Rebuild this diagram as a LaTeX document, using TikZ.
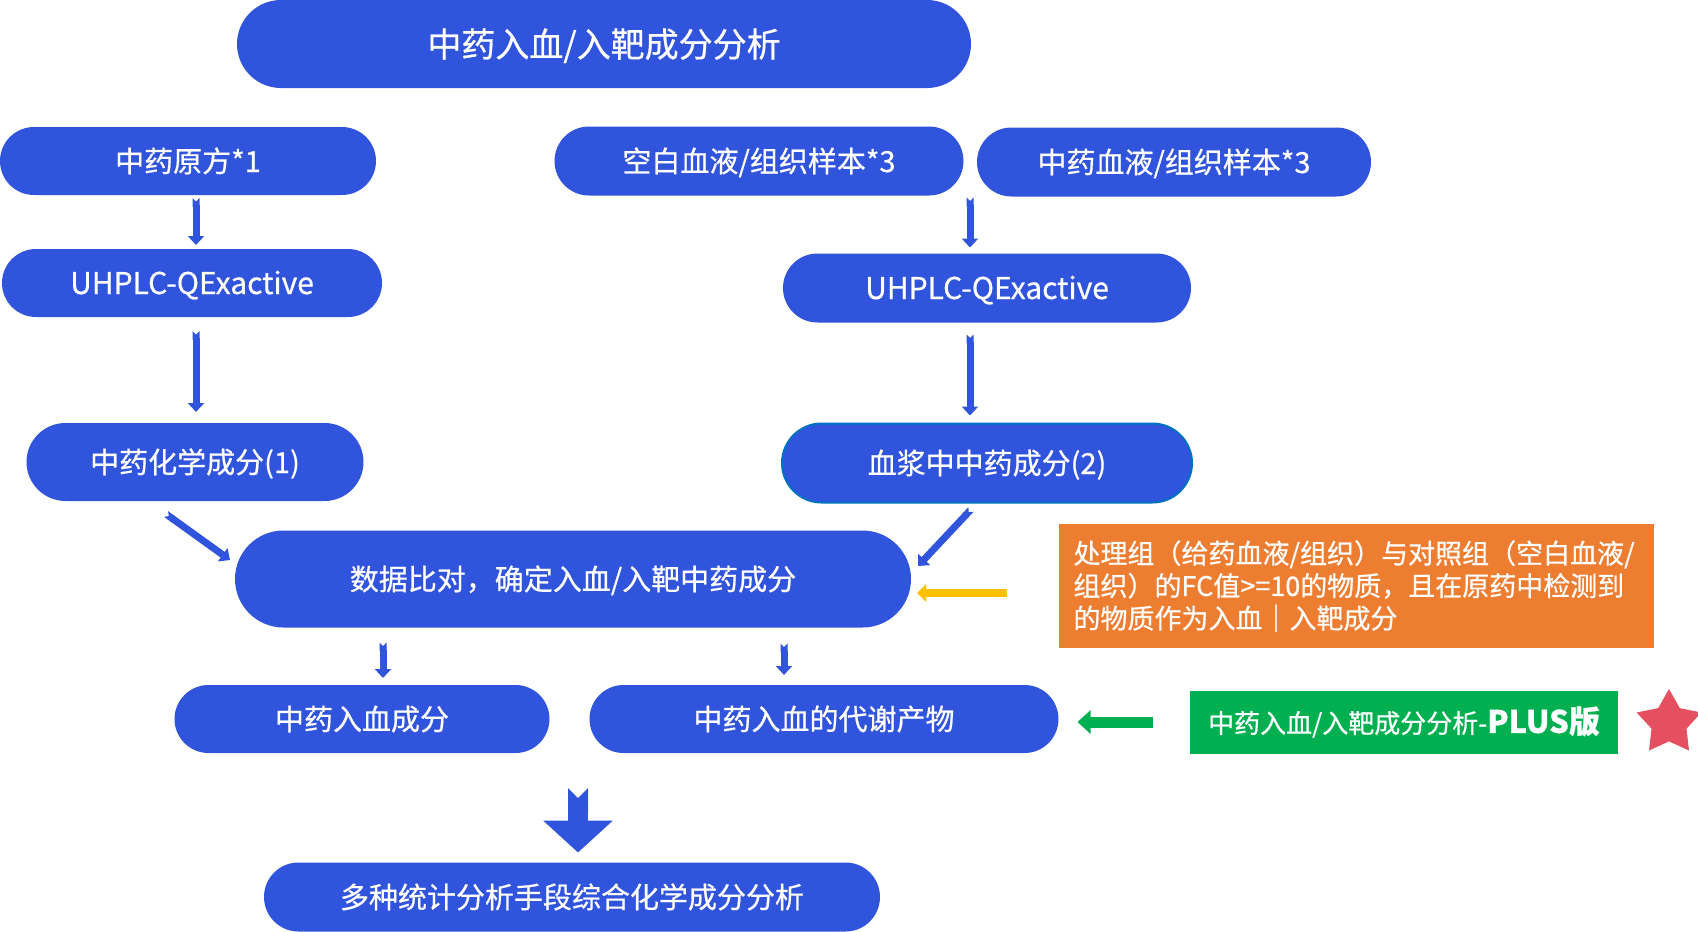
\documentclass[tikz,border=0pt]{standalone}
\usepackage{fontspec}
\newfontfamily\cjk{Noto Sans CJK SC}[FakeBold=0.6]
\usetikzlibrary{arrows.meta,shapes.misc,shapes.geometric}
\definecolor{boxblue}{RGB}{48,84,219}
\definecolor{edgeblue}{RGB}{0,112,192}
\definecolor{noteorange}{RGB}{237,125,49}
\definecolor{plusgreen}{RGB}{0,176,80}
\definecolor{hintgold}{RGB}{255,192,0}
\definecolor{starred}{RGB}{229,80,96}
\tikzset{
  pill/.style={rounded rectangle, fill=boxblue, text=white, inner sep=0pt, outer sep=0pt,
    text height=25pt, text depth=3pt, font=\cjk\fontsize{29}{34}\selectfont},
  blk/.style={boxblue, line width=7pt, {Triangle Cap[reversed]}-{Triangle[width=16pt,length=9pt]}},
  bigblk/.style={boxblue, line width=20pt, {Triangle Cap[reversed]}-{Triangle[width=68pt,length=32pt]}},
}
\begin{document}
\begin{tikzpicture}[x=1pt,y=-1pt]
\useasboundingbox (0,0) rectangle (1698,932);
\coordinate (colL) at (196,0);
\coordinate (colR) at (970,0);
\coordinate (colA) at (383,0);
\coordinate (colB) at (784,0);
\coordinate (colC) at (578,0);
\coordinate (rowY) at (0,593);

\node[pill, minimum width=734pt, minimum height=88pt, text height=29pt, text depth=3pt, font=\cjk\fontsize{34}{40}\selectfont] (title) at (604,44) {中药入血/入靶成分分析};
\node[pill, minimum width=376pt, minimum height=68pt] (yuanfang) at (188,161) {中药原方*1};
\node[pill, minimum width=409pt, minimum height=69pt] (kongbai) at (759,161) {空白血液/组织样本*3};
\node[pill, minimum width=394pt, minimum height=69pt] (xueye) at (1174,162) {中药血液/组织样本*3};
\node[pill, minimum width=380pt, minimum height=68pt, font=\cjk\fontsize{30}{34}\selectfont] (uhplcL) at (192,283) {UHPLC-QExactive};
\node[pill, minimum width=408pt, minimum height=69pt, font=\cjk\fontsize{30}{34}\selectfont] (uhplcR) at (987,288) {UHPLC-QExactive};
\node[pill, minimum width=337pt, minimum height=78pt] (chemL) at (195,462) {中药化学成分(1)};
\node[pill, draw=edgeblue, line width=2pt, minimum width=410pt, minimum height=79pt] (plasma) at (987,463) {血浆中中药成分(2)};
\node[pill, minimum width=676pt, minimum height=97pt] (compare) at (573,579) {数据比对，确定入血/入靶中药成分};
\node[fill=noteorange, text=white, minimum width=595pt, minimum height=124pt, inner xsep=15pt,
  text width=565pt, align=left, font=\cjk\fontsize{27}{32.5}\selectfont] (note) at (1356,586)
  {处理组（给药血液/组织）与对照组（空白血液/\\组织）的FC值>=10的物质，且在原药中检测到\\的物质作为入血｜入靶成分};
\node[pill, minimum width=375pt, minimum height=68pt] (ruxue) at (362,719) {中药入血成分};
\node[pill, minimum width=469pt, minimum height=68pt] (metab) at (824,719) {中药入血的代谢产物};
\node[fill=plusgreen, text=white, minimum width=428pt, minimum height=63pt, inner sep=0pt,
  font=\cjk\fontsize{26}{30}\selectfont] (plus) at (1404,722)
  {中药入血/入靶成分分析-{\bfseries\fontsize{31}{34}\selectfont PLUS版}};
\node[star, star points=5, star point ratio=1.85, fill=starred, minimum size=68pt, inner sep=0pt] (star) at (1669,723) {};
\node[pill, minimum width=616pt, minimum height=69pt] (final) at (572,897) {多种统计分析手段综合化学成分分析};

\draw[blk, shorten <=3pt, shorten >=4pt] (yuanfang.south -| colL) -- (uhplcL.north -| colL);
\draw[blk, shorten <=14pt, shorten >=11pt] (uhplcL.south -| colL) -- (chemL.north -| colL);
\draw[blk, shorten <=2pt, shorten >=6pt] (kongbai.south -| colR) -- (uhplcR.north -| colR);
\draw[blk, shorten <=12pt, shorten >=8pt] (uhplcR.south -| colR) -- (plasma.north -| colR);
\draw[blk] ([shift={(-29,13)}]chemL.south) -- ([shift={(-5,-19)}]compare.west);
\draw[blk] ([shift={(-16,7)}]plasma.south) -- ([shift={(7,-13)}]compare.east);
\draw[hintgold, line width=8pt, -{Triangle[width=17pt,length=9pt]}, shorten <=51pt, shorten >=6pt]
  (note.west |- rowY) -- (compare.east |- rowY);
\draw[blk, shorten <=15pt, shorten >=7pt] (compare.south -| colA) -- (ruxue.north -| colA);
\draw[blk, shorten <=16pt, shorten >=10pt] (compare.south -| colB) -- (metab.north -| colB);
\draw[plusgreen, line width=11pt, -{Triangle[width=23pt,length=13pt]}, shorten <=37pt, shorten >=19pt]
  (plus.west) -- (plus.west -| metab.east);
\draw[bigblk, shorten <=35pt, shorten >=10pt] (ruxue.south -| colC) -- (final.north -| colC);
\end{tikzpicture}
\end{document}
